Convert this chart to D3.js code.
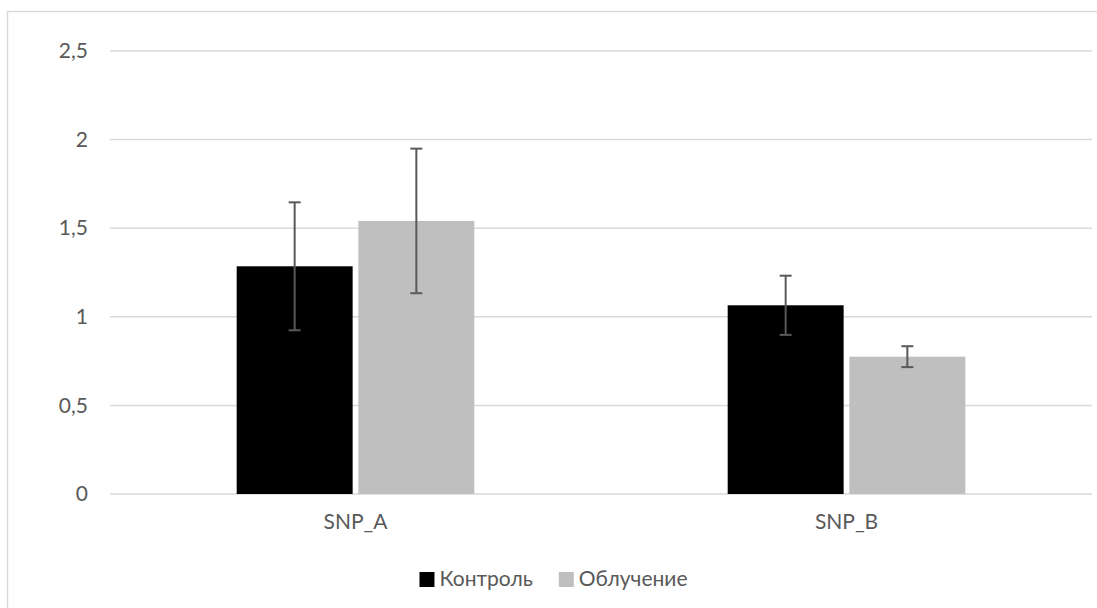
<!DOCTYPE html>
<html><head><meta charset="utf-8">
<script src="https://cdn.jsdelivr.net/npm/d3@7"></script>
<style>
html,body{margin:0;padding:0;background:#fff;}
svg{display:block;}
text{font-family:Lato,"Open Sans",sans-serif;fill:#595959;}
</style></head>
<body>
<svg id="chart" width="1097" height="608"></svg>
<script>
const categories = ["SNP_A", "SNP_B"];
const seriesNames = ["Контроль", "Облучение"];
const controlValues = [1.285, 1.065];
const controlErrors = [0.361, 0.167];
const irradValues = [1.541, 0.775];
const irradErrors = [0.408, 0.059];
const yTicks = [0, 0.5, 1, 1.5, 2, 2.5];
const yTickLabels = ["0", "0,5", "1", "1,5", "2", "2,5"];
const colors = ["#000000", "#bfbfbf"];

const values = [controlValues, irradValues];
const errors = [controlErrors, irradErrors];

const svg = d3.select("#chart");
const plot = {left: 110, right: 1092, top: 51, bottom: 494};

// chart border
svg.append("rect").attr("x", 7.5).attr("y", 11.5).attr("width", 1100).attr("height", 620)
  .attr("fill", "none").attr("stroke", "#d9d9d9").attr("stroke-width", 1.5);

const y = d3.scaleLinear().domain([0, 2.5]).range([plot.bottom, plot.top]);
const x0 = d3.scaleBand().domain(categories).range([plot.left, plot.right]).paddingInner(0.516).paddingOuter(0.258);
const x1 = d3.scaleBand().domain(seriesNames).range([0, x0.bandwidth()]).paddingInner(0.047);

// gridlines
svg.append("g").selectAll("line").data(yTicks).join("line")
  .attr("x1", plot.left).attr("x2", plot.right)
  .attr("y1", d => y(d)).attr("y2", d => y(d))
  .attr("stroke", "#d9d9d9").attr("stroke-width", 1.5);

// y axis labels
const yAxis = d3.axisLeft(y).tickValues(yTicks).tickFormat((d, i) => yTickLabels[i]).tickSize(0).tickPadding(22);
const gy = svg.append("g").attr("transform", `translate(${plot.left},0)`).call(yAxis);
gy.select(".domain").remove();
gy.selectAll("text").attr("font-size", 21).attr("fill", "#595959").attr("font-family", "Lato, 'Open Sans', sans-serif");

// x axis labels
const xAxis = d3.axisBottom(x0).tickSize(0).tickPadding(20);
const gx = svg.append("g").attr("transform", `translate(0,${plot.bottom})`).call(xAxis);
gx.select(".domain").remove();
gx.selectAll("text").attr("font-size", 21).attr("fill", "#595959").attr("font-family", "Lato, 'Open Sans', sans-serif");

// bars
const rows = [];
categories.forEach((c, ci) => seriesNames.forEach((s, si) => rows.push({c, s, v: values[si][ci], e: errors[si][ci], color: colors[si]})));

svg.append("g").selectAll("rect").data(rows).join("rect")
  .attr("x", d => x0(d.c) + x1(d.s))
  .attr("width", x1.bandwidth())
  .attr("y", d => y(d.v))
  .attr("height", d => y(0) - y(d.v))
  .attr("fill", d => d.color);

// error bars
const eg = svg.append("g").attr("stroke", "#595959").attr("stroke-width", 2);
rows.forEach(d => {
  const cx = x0(d.c) + x1(d.s) + x1.bandwidth() / 2;
  eg.append("line").attr("x1", cx).attr("x2", cx).attr("y1", y(d.v + d.e)).attr("y2", y(d.v - d.e));
  eg.append("line").attr("x1", cx - 6).attr("x2", cx + 6).attr("y1", y(d.v + d.e)).attr("y2", y(d.v + d.e));
  eg.append("line").attr("x1", cx - 6).attr("x2", cx + 6).attr("y1", y(d.v - d.e)).attr("y2", y(d.v - d.e));
});

// legend
const lg = svg.append("g");
let items = [];
let cursor = 0;
seriesNames.forEach((s, i) => {
  const g = lg.append("g");
  g.append("rect").attr("x", 0).attr("y", -14).attr("width", 15).attr("height", 15).attr("fill", colors[i]);
  const t = g.append("text").attr("x", 20).attr("y", 0).attr("font-size", 21).text(s);
  const w = 20 + t.node().getComputedTextLength();
  g.attr("transform", `translate(${cursor},0)`);
  cursor += w + 26;
});
const totalW = cursor - 26;
lg.attr("transform", `translate(${553.5 - totalW / 2},586)`);
</script>
</body></html>
